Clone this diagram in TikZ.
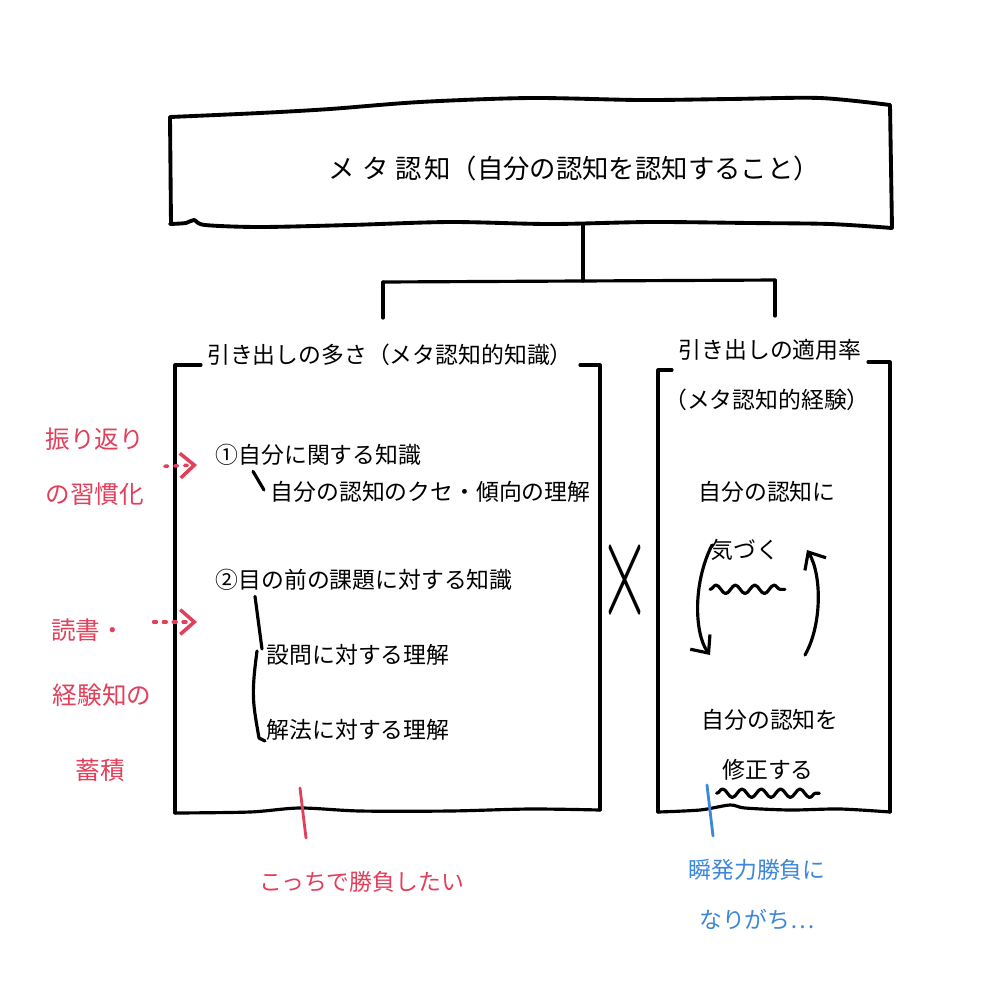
\documentclass[tikz,border=0pt]{standalone}
\usepackage{fontspec}
\usepackage{graphicx}
\setmainfont{Noto Sans CJK JP}
\usetikzlibrary{arrows.meta,decorations.pathmorphing}

\definecolor{redink}{HTML}{E23F5B}
\definecolor{blueink}{HTML}{3C87D8}

\begin{document}
\begin{tikzpicture}
        \tikzstyle{ink} = [line width=0.9pt, line cap=round, line join=round]
        \tikzstyle{jtext} = [inner sep=0pt, font=\fontsize{6.5}{8}\selectfont]
        \tikzstyle{redtext} = [inner sep=0pt, text=redink, align=center, font=\fontsize{7}{15.6}\selectfont]
        \tikzstyle{redpen} = [draw=redink, line width=0.8pt, line cap=round]
        \tikzstyle{bluepen} = [draw=blueink, line width=0.8pt, line cap=round]
        \tikzstyle{wavy} = [ink, decorate, decoration={snake, amplitude=1.2pt, segment length=5.5pt}]
        \tikzstyle{hook} = [-{Straight Barb[length=4pt,width=7pt]}]
        % Paper
        \fill[white] (0,0) rectangle (10.04,-10.04);
        \useasboundingbox (0,0) rectangle (10.04,-10.04);
        % Draw the wobbly box round the heading
        \draw[ink, line width=1.1pt] plot[smooth] coordinates {(1.70,-1.17) (2.6,-1.13) (3.3,-1.09) (4.2,-1.02) (5.3,-0.98) (6.4,-1.00) (7.3,-0.99) (8.2,-0.98) (8.90,-1.05)};
        \draw[ink, line width=1.1pt] plot[smooth] coordinates {(1.70,-2.24) (1.86,-2.23) (1.94,-2.20) (2.05,-2.25) (2.6,-2.27) (3.5,-2.25) (4.5,-2.22) (5.5,-2.24) (6.5,-2.22) (7.5,-2.23) (8.3,-2.24) (8.92,-2.28)};
        \draw[ink, line width=1.1pt] (1.70,-1.17) -- (1.71,-2.24);
        \draw[ink, line width=1.1pt] (8.90,-1.05) -- (8.92,-2.28);
        \node[inner sep=0pt, font=\fontsize{7.5}{9}\selectfont] (meta) at (5.74,-1.68) {メ\hspace{0.3em}タ\hspace{0.25em}認\hspace{0.1em}知（自分の認知を認知すること）};
        % Draw the fork down to the two drawers
        \coordinate (metafoot) at (5.83,-2.25);
        \coordinate (fork) at (5.83,-2.81);
        \coordinate (forkL) at (3.83,-2.82);
        \coordinate (forkR) at (7.75,-2.80);
        \coordinate (dropL) at (3.83,-3.18);
        \coordinate (dropR) at (7.75,-3.16);
        \draw[ink] (metafoot) -- (fork);
        \draw[ink] (forkL) -- (forkR);
        \foreach \top/\foot in {forkL/dropL, forkR/dropR} {
            \draw[ink] (\top) -- (\foot);
        }
        % Draw the left drawer and its title
        \node[jtext] (drawerL) at (3.90,-3.55) {引き出しの多さ（メタ認知的知識）};
        \draw[ink] (2.01,-3.65) -- (1.75,-3.65) -- (1.75,-8.13);
        \draw[ink] plot[smooth] coordinates {(1.75,-8.13) (2.5,-8.12) (3.0,-8.08) (3.6,-8.11) (4.5,-8.11) (5.3,-8.09) (6.00,-8.10)};
        \draw[ink] (5.80,-3.65) -- (6.00,-3.65) -- (6.00,-8.10);
        % Draw the right drawer and its title
        \node[jtext] (drawerR) at (7.70,-3.50) {引き出しの適用率};
        \node[jtext] (drawerRsub) at (7.67,-4.00) {（メタ認知的経験）};
        \draw[ink] (6.72,-3.70) -- (6.58,-3.70) -- (6.58,-8.12);
        \draw[ink] plot[smooth] coordinates {(6.58,-8.12) (7.0,-8.10) (7.3,-8.05) (7.45,-8.08) (7.9,-8.10) (8.4,-8.09) (8.90,-8.12)};
        \draw[ink] (8.68,-3.62) -- (8.90,-3.62) -- (8.90,-8.12);
        % Times sign between the drawers
        \node[inner sep=0pt, font=\fontsize{20}{20}\selectfont] (times) at (6.25,-5.80) {\scalebox{0.9}[2.0]{$\times$}};
        % Items of the left drawer
        \node[jtext, anchor=west] (item1) at (2.15,-4.55) {①自分に関する知識};
        \node[jtext, anchor=west] (item1sub) at (2.70,-4.92) {自分の認知のクセ・傾向の理解};
        \node[jtext, anchor=west] (item2) at (2.15,-5.80) {②目の前の課題に対する知識};
        \node[jtext, anchor=west] (item2a) at (2.66,-6.55) {設問に対する理解};
        \node[jtext, anchor=west] (item2b) at (2.66,-7.30) {解法に対する理解};
        \draw[ink] ([xshift=0.38cm,yshift=-0.05cm]item1.south west) -- ([xshift=-0.06cm,yshift=0.02cm]item1sub.west);
        \draw[ink] ([xshift=0.40cm,yshift=-0.05cm]item2.south west) -- ([xshift=-0.04cm,yshift=0.06cm]item2a.west);
        \draw[ink] ([xshift=-0.09cm,yshift=0.04cm]item2a.west) .. controls +(-0.06,-0.45) and +(-0.06,0.35) .. ([xshift=-0.07cm,yshift=-0.08cm]item2b.west) -- ++(0.06,-0.03);
        % Cycle in the right drawer
        \node[jtext] (notice1) at (7.67,-4.92) {自分の認知に};
        \node[jtext] (notice2) at (7.45,-5.50) {気づく};
        \node[jtext] (fix1) at (7.70,-7.20) {自分の認知を};
        \node[jtext] (fix2) at (7.68,-7.70) {修正する};
        \draw[wavy] ([yshift=-0.28cm]notice2.south west) -- ([yshift=-0.28cm,xshift=0.05cm]notice2.south east);
        \draw[wavy] ([yshift=-0.12cm,xshift=-0.05cm]fix2.south west) -- ([yshift=-0.12cm,xshift=0.05cm]fix2.south east);
        \coordinate (cycleA) at (7.12,-5.45);
        \coordinate (cycleB) at (7.10,-6.55);
        \coordinate (cycleC) at (8.05,-6.55);
        \coordinate (cycleD) at (8.07,-5.50);
        \draw[ink, hook] (cycleA) .. controls (6.92,-5.85) and (6.95,-6.35) .. (cycleB);
        \draw[ink, hook] (cycleC) .. controls (8.22,-6.25) and (8.22,-5.75) .. (cycleD);
        % Red notes on the left
        \node[redtext] (habit) at (0.95,-4.67) {振り返り\\の習慣化};
        \node[redtext] (reading) at (0.88,-6.30) {読書・};
        \node[redtext] (stock) at (1.02,-6.95) {経験知の};
        \node[redtext] (pile) at (1.00,-7.70) {蓄積};
        \coordinate (tip1) at (1.97,-4.65);
        \coordinate (tip2) at (1.97,-6.22);
        \draw[redpen, dotted, line width=1pt, hook, shorten <=0.2cm] (habit.east) -- (tip1);
        \draw[redpen, dotted, line width=1pt, hook, shorten <=0.28cm] (reading.east |- tip2) -- (tip2);
        % Red note under the left drawer
        \coordinate (redtickA) at (3.00,-7.88);
        \coordinate (redtickB) at (3.06,-8.38);
        \draw[redpen] (redtickA) -- (redtickB);
        \node[redtext, font=\fontsize{6.5}{8}\selectfont] (here) at (3.62,-8.82) {こっちで勝負したい};
        % Blue note under the right drawer
        \coordinate (bluetickA) at (7.07,-7.85);
        \coordinate (bluetickB) at (7.13,-8.36);
        \draw[bluepen] (bluetickA) -- (bluetickB);
        \node[inner sep=0pt, text=blueink, align=center, font=\fontsize{6.5}{14.2}\selectfont] (reflex) at (7.57,-8.95) {瞬発力勝負に\\なりがち…};

    \end{tikzpicture}
\end{document}
